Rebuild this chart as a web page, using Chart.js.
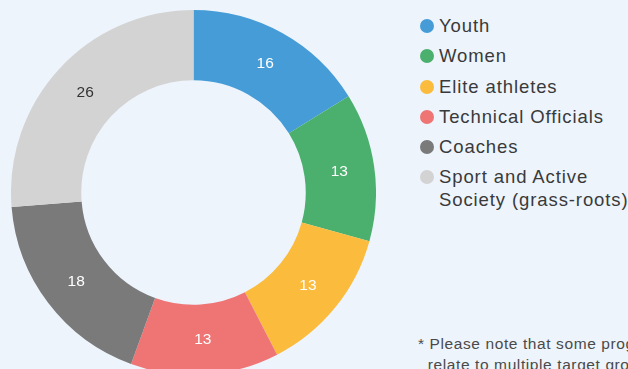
<!DOCTYPE html>
<html>
<head>
<meta charset="utf-8">
<script src="https://cdn.jsdelivr.net/npm/chart.js@4"></script>
<style>
  html, body { margin: 0; padding: 0; }
  body {
    width: 628px; height: 369px; overflow: hidden; position: relative;
    background: #edf4fc;
    font-family: "Liberation Sans", Arial, sans-serif;
  }
  #wrap { position: absolute; left: 11px; top: 10px; width: 365px; height: 365px; }
  #legend { position: absolute; left: 420px; top: 14px; margin: 0; padding: 0; list-style: none; }
  #legend li { position: relative; padding-left: 19px; font-size: 18.5px; letter-spacing: 0.9px; line-height: 23px; color: #3a3a3a; margin-bottom: 7.3px; white-space: nowrap; }
  #legend li span { position: absolute; left: 0; top: 5px; width: 14px; height: 14px; border-radius: 50%; }
  #note { position: absolute; left: 418px; top: 333px; font-size: 15.5px; letter-spacing: 0.6px; line-height: 21px; color: #4a4a4a; white-space: nowrap; }
</style>
</head>
<body>
<div id="wrap"><canvas id="donut"></canvas></div>
<ul id="legend"></ul>
<div id="note">* Please note that some programmes<br>&nbsp;&nbsp;relate to multiple target groups</div>
<script>
const categories = ['Youth', 'Women', 'Elite athletes', 'Technical Officials', 'Coaches', 'Sport and Active Society (grass-roots)'];
const legendLabels = ['Youth', 'Women', 'Elite athletes', 'Technical Officials', 'Coaches', 'Sport and Active<br>Society (grass-roots)'];
const values = [16, 13, 13, 13, 18, 26];
const colors = ['#469cd7', '#4bb06d', '#fbbb3d', '#ef7574', '#7a7a7a', '#d3d3d3'];
const labelColors = ['#fff', '#fff', '#fff', '#fff', '#fff', '#333'];

// simple inline label plugin, writes the value in the middle of each arc
const arcLabels = {
    id: 'arcLabels',
    afterDatasetsDraw(chart) {
        const ctx = chart.ctx;
        const meta = chart.getDatasetMeta(0);
        ctx.save();
        ctx.font = '15.5px "Liberation Sans", Arial, sans-serif';
        ctx.textAlign = 'center';
        ctx.textBaseline = 'middle';
        meta.data.forEach(function (arc, i) {
            const p = arc.tooltipPosition();
            ctx.fillStyle = labelColors[i];
            ctx.fillText(values[i], p.x, p.y);
        });
        ctx.restore();
    }
};

const ctx = document.getElementById('donut').getContext('2d');
const donut = new Chart(ctx, {
    type: 'doughnut',
    data: {
        labels: categories,
        datasets: [{
            data: values,
            backgroundColor: colors,
            borderWidth: 0
        }]
    },
    options: {
        responsive: true,
        maintainAspectRatio: false,
        animation: false,
        cutout: '61.5%',
        layout: { padding: 0 },
        plugins: {
            legend: { display: false },
            tooltip: { enabled: false }
        }
    },
    plugins: [arcLabels]
});

// html legend from the same arrays
const legend = document.getElementById('legend');
legendLabels.forEach(function (name, i) {
    const li = document.createElement('li');
    li.innerHTML = '<span style="background:' + colors[i] + '"></span>' + name;
    legend.appendChild(li);
});
</script>
</body>
</html>
